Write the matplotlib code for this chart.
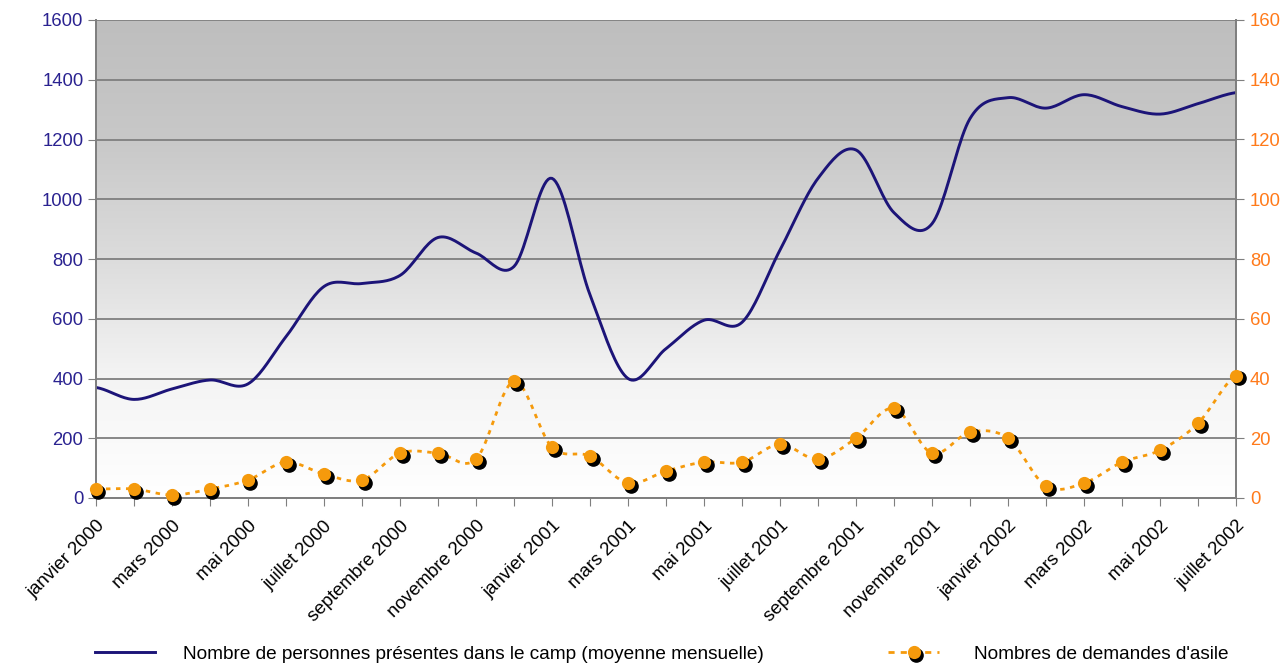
import numpy as np
import matplotlib
matplotlib.use('Agg')
import matplotlib.pyplot as plt
import matplotlib.transforms as mtransforms
from matplotlib.lines import Line2D
from matplotlib.legend_handler import HandlerBase

plt.rcParams['font.family'] = ['Liberation Sans', 'DejaVu Sans']

mois = ['janvier', 'février', 'mars', 'avril', 'mai', 'juin', 'juillet', 'août',
        'septembre', 'octobre', 'novembre', 'décembre']
months = [f'{mois[i % 12]} {2000 + i // 12}' for i in range(31)]

# personnes presentes dans le camp (moyenne mensuelle)
personnes = [370, 330, 365, 395, 382, 540, 708, 718, 745, 872,
             820, 775, 1070, 680, 400, 500, 595, 588, 830, 1070,
             1165, 955, 918, 1270, 1340, 1305, 1350, 1310, 1285, 1320, 1357]
# demandes d'asile
demandes = [3, 3, 1, 3, 6, 12, 8, 6, 15, 15,
            13, 39, 17, 14, 5, 9, 12, 12, 18, 13,
            20, 30, 15, 22, 20, 4, 5, 12, 16, 25, 41]

BLUE = '#1c1478'
ORANGE = '#f59a0c'
LEFT_TXT = '#2a2290'
RIGHT_TXT = '#ff7a1a'
GRID = '#7f7f7f'
DOTS = (0, (1.6, 2.0))
MS = 9.5


def smooth(y, n=20):
    # catmull-rom curve through the monthly points (like excel "lissage")
    y = np.asarray(y, float)
    x = np.arange(len(y), dtype=float)
    p = np.concatenate([[y[0]], y, [y[-1]]])
    xs, ys = [], []
    t = np.linspace(0, 1, n, endpoint=False)
    for i in range(len(y) - 1):
        p0, p1, p2, p3 = p[i], p[i + 1], p[i + 2], p[i + 3]
        yy = 0.5 * ((2 * p1) + (-p0 + p2) * t + (2 * p0 - 5 * p1 + 4 * p2 - p3) * t ** 2
                    + (-p0 + 3 * p1 - 3 * p2 + p3) * t ** 3)
        xs.append(x[i] + t)
        ys.append(yy)
    xs.append([x[-1]])
    ys.append([y[-1]])
    return np.concatenate(xs), np.concatenate(ys)


fig = plt.figure(figsize=(12.84, 6.66), dpi=100)
ax = fig.add_axes([96 / 1284, 1 - 498 / 666, 1140 / 1284, 478 / 666])
ax2 = ax.twinx()


class ShadowHandler(HandlerBase):
    # dotted line + orange dot with a black shadow, like the chart markers
    def create_artists(self, legend, orig_handle, xdescent, ydescent,
                       width, height, fontsize, trans):
        y = height / 2 - ydescent
        x0, x1 = -xdescent, -xdescent + width
        xm = (x0 + x1) / 2
        line = Line2D([x0, x1], [y, y], color=ORANGE, linewidth=2.0, linestyle=(0, (2.2, 2.2)))
        sh = Line2D([xm], [y], marker='o', markersize=MS, color='black', linestyle='none')
        mk = Line2D([xm], [y], marker='o', markersize=MS, color=ORANGE,
                    markeredgewidth=0, linestyle='none')
        line.set_transform(trans)
        mk.set_transform(trans)
        sh.set_transform(trans + mtransforms.ScaledTranslation(0.025, -0.025, fig.dpi_scale_trans))
        return [line, sh, mk]


x = np.arange(len(months))
ax.set_xlim(0, len(months) - 1)
ax.set_ylim(0, 1600)
ax2.set_ylim(0, 160)

# gradient background
grad = np.linspace(0, 1, 256).reshape(-1, 1)
ax.imshow(grad, extent=[0, len(months) - 1, 0, 1600], aspect='auto',
          cmap=matplotlib.colors.LinearSegmentedColormap.from_list(
              'bg', ['#ffffff', '#f4f4f4', '#dcdcdc', '#c8c8c8', '#bebebe']),
          origin='lower', zorder=0)

ax.set_yticks(range(0, 1601, 200))
ax2.set_yticks(range(0, 161, 20))
ax.yaxis.grid(True, color=GRID, linewidth=1.3)
ax.set_axisbelow(False)
for gl in ax.get_ygridlines():
    gl.set_zorder(1)

sx, sy = smooth(personnes)
ax.plot(sx, sy, color=BLUE, linewidth=2.1, zorder=3)

dx, dy = smooth(demandes)
ax2.plot(dx, dy, color=ORANGE, linewidth=2.0, linestyle=DOTS, zorder=3)
shadow = mtransforms.offset_copy(ax2.transData, fig=fig, x=2.5, y=-2.5, units='dots')
ax2.plot(x, demandes, linestyle='none', marker='o', markersize=MS,
         color='black', transform=shadow, zorder=4, clip_on=False)
ax2.plot(x, demandes, linestyle='none', marker='o', markersize=MS,
         color=ORANGE, markeredgewidth=0, zorder=5, clip_on=False)

ax.set_xticks(x)
ax.set_xticklabels([m if i % 2 == 0 else '' for i, m in enumerate(months)],
                   rotation=45, ha='right', rotation_mode='anchor', fontsize=13.4)
ax.tick_params(axis='x', length=6, color=GRID, pad=8)
ax.tick_params(axis='y', length=6, color=GRID, labelcolor=LEFT_TXT, labelsize=13.3, pad=3)
ax2.tick_params(axis='y', length=6, color=GRID, labelcolor=RIGHT_TXT, labelsize=13.3, pad=4)

for a in (ax, ax2):
    a.spines['top'].set_visible(False)
    for s in ('left', 'right', 'bottom'):
        a.spines[s].set_color(GRID)
        a.spines[s].set_linewidth(1.3)

h1 = Line2D([], [], color=BLUE, linewidth=2.1)
h2 = Line2D([], [])
fig.legend([h1], ['Nombre de personnes présentes dans le camp (moyenne mensuelle)'],
           loc='center left', bbox_to_anchor=(95 / 1284, 1 - 654 / 666), frameon=False,
           fontsize=13.7, handlelength=3.15, handletextpad=1.45, borderpad=0,
           borderaxespad=0)
fig.legend([h2], ["Nombres de demandes d'asile"], handler_map={h2: ShadowHandler()},
           loc='center left', bbox_to_anchor=(888 / 1284, 1 - 654 / 666), frameon=False,
           fontsize=13.7, handlelength=2.7, handletextpad=1.8, borderpad=0,
           borderaxespad=0)

fig.savefig('out.png', dpi=100)
